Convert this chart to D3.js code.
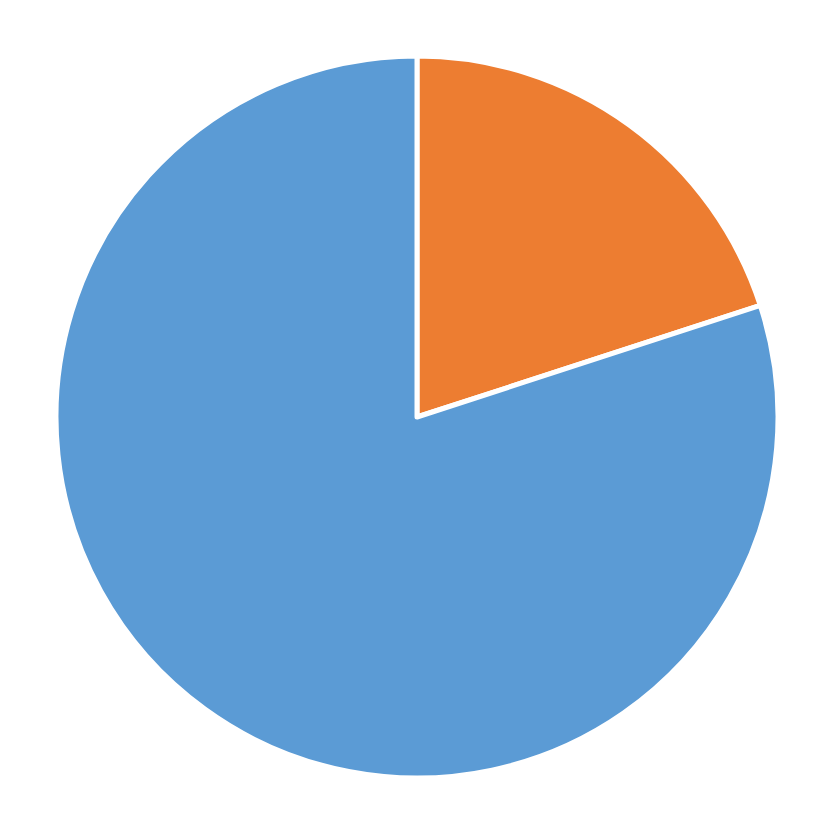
<!DOCTYPE html>
<html>
<head>
<meta charset="utf-8">
<script src="https://cdn.jsdelivr.net/npm/d3@7.9.0/dist/d3.min.js"></script>
<style>
  html, body { margin: 0; padding: 0; background: #fff; }
  svg { display: block; }
</style>
</head>
<body>
<svg width="834" height="834"></svg>
<script>
// slice data, clockwise from 12 o'clock
const labels = ['B', 'A'];
const values = [20, 80];
const colors = ['#ED7D31', '#5B9BD5'];

const svg = d3.select('svg');
const cx = 417, cy = 417, radius = 361;

const data = labels.map((label, i) => ({ label, value: values[i] }));

let pie = d3.pie().sort(null).value((d) => d.value);
let arcGenerator = d3.arc().innerRadius(0).outerRadius(radius);

const g = svg.append('g').attr('transform', `translate(${cx},${cy})`);

g.selectAll('path')
  .data(pie(data))
  .join('path')
  .attr('d', arcGenerator)
  .attr('fill', (d, i) => colors[i])
  .attr('stroke', '#fff')
  .attr('stroke-width', 5)
  .attr('stroke-linejoin', 'round');
</script>
</body>
</html>
